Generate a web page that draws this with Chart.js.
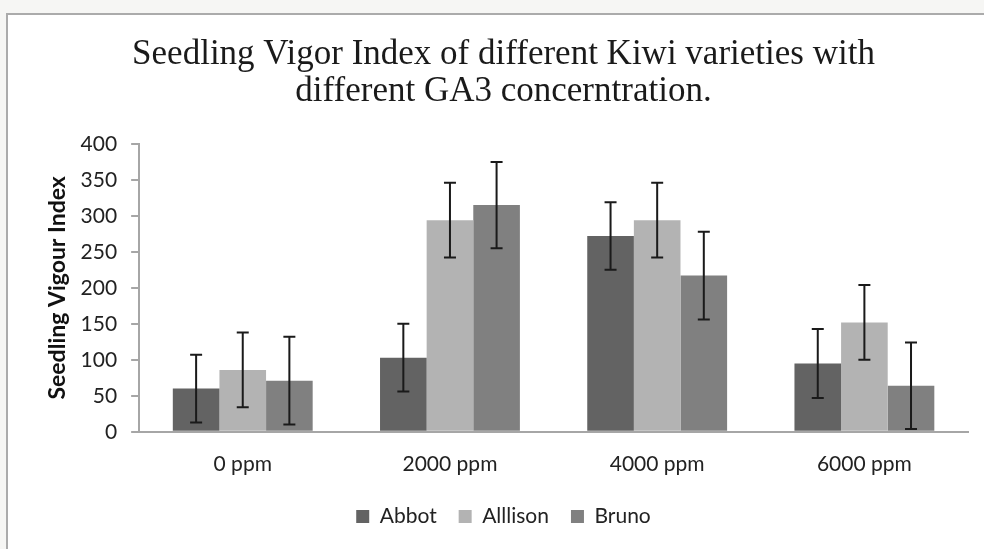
<!DOCTYPE html>
<html>
<head>
<meta charset="utf-8">
<script src="https://cdn.jsdelivr.net/npm/chart.js@4"></script>
<style>
  html, body { margin: 0; padding: 0; background: #f6f6f4; overflow: hidden; }
  #frame {
    position: absolute; left: 6px; top: 13px; width: 1000px; height: 560px;
    background: #fff; border-left: 2px solid #ababab; border-top: 2px solid #ababab;
  }
  #wrap { position: absolute; left: 0; top: 0; width: 984px; height: 549px; }
</style>
</head>
<body>
<div id="frame"></div>
<div id="wrap"><canvas id="chart"></canvas></div>
<script>
// chart data
const categories = ['0 ppm', '2000 ppm', '4000 ppm', '6000 ppm'];
const abbot = [60, 103, 272, 95];
const allison = [86, 294, 294, 152];
const bruno = [71, 315, 217, 64];
// error bar half-lengths
const abbotErr = [47, 47, 47, 48];
const allisonErr = [52, 52, 52, 52];
const brunoErr = [61, 60, 61, 60];

// draws the error bars on top of each bar
const errorBars = {
    id: 'errorBars',
    afterDatasetsDraw(chart) {
        const ctx = chart.ctx;
        const yScale = chart.scales.y;
        ctx.save();
        ctx.strokeStyle = '#1a1a1a';
        ctx.lineWidth = 2;
        chart.data.datasets.forEach((ds, i) => {
            const meta = chart.getDatasetMeta(i);
            meta.data.forEach((bar, j) => {
                const v = ds.data[j];
                const e = ds.errors[j];
                const top = yScale.getPixelForValue(v + e);
                const bot = yScale.getPixelForValue(Math.max(v - e, 0));
                ctx.beginPath();
                ctx.moveTo(bar.x, top);
                ctx.lineTo(bar.x, bot);
                ctx.moveTo(bar.x - 6, top);
                ctx.lineTo(bar.x + 6, top);
                ctx.moveTo(bar.x - 6, bot);
                ctx.lineTo(bar.x + 6, bot);
                ctx.stroke();
            });
        });
        ctx.restore();
    }
};

const ctx = document.getElementById('chart').getContext('2d');
new Chart(ctx, {
    type: 'bar',
    data: {
        labels: categories,
        datasets: [
            { label: 'Abbot', data: abbot, errors: abbotErr, backgroundColor: '#636363' },
            { label: 'Alllison', data: allison, errors: allisonErr, backgroundColor: '#b3b3b3' },
            { label: 'Bruno', data: bruno, errors: brunoErr, backgroundColor: '#808080' }
        ]
    },
    options: {
        responsive: true,
        maintainAspectRatio: false,
        animation: false,
        layout: { padding: { left: 39, right: 16, top: 0, bottom: 12 } },
        datasets: { bar: { barPercentage: 1, categoryPercentage: 0.675 } },
        plugins: {
            tooltip: { enabled: false },
            title: {
                display: true,
                text: ['Seedling Vigor Index of different Kiwi varieties with', 'different GA3 concerntration.'],
                color: '#1a1a1a',
                font: { family: '"Liberation Serif", "Times New Roman", serif', size: 35, weight: 'normal', lineHeight: 1.07 },
                padding: { top: 36, bottom: 33 }
            },
            legend: {
                position: 'bottom',
                labels: {
                    color: '#222',
                    boxWidth: 13,
                    boxHeight: 13,
                    padding: 22,
                    font: { family: 'Lato, "Noto Sans", sans-serif', size: 21 }
                }
            }
        },
        scales: {
            x: {
                grid: { display: false, drawTicks: false },
                border: { display: true, color: '#a6a6a6', width: 2 },
                ticks: {
                    color: '#222',
                    padding: 20,
                    font: { family: 'Lato, "Noto Sans", sans-serif', size: 21 }
                },
                // pull the legend a little closer to the axis labels
                afterFit(scale) { scale.height -= 13; }
            },
            y: {
                min: 0,
                max: 400,
                ticks: {
                    stepSize: 50,
                    color: '#222',
                    padding: 14,
                    font: { family: 'Lato, "Noto Sans", sans-serif', size: 21 }
                },
                grid: { drawOnChartArea: false, drawTicks: true, tickLength: 8, color: '#a6a6a6', lineWidth: 2 },
                border: { display: true, color: '#a6a6a6', width: 2 },
                title: {
                    display: true,
                    text: 'Seedling Vigour Index',
                    color: '#111',
                    padding: { top: 5, bottom: -5 },
                    font: { family: 'Lato, "Noto Sans", sans-serif', size: 23, weight: 'bold' }
                }
            }
        }
    },
    plugins: [errorBars]
});
</script>
</body>
</html>
